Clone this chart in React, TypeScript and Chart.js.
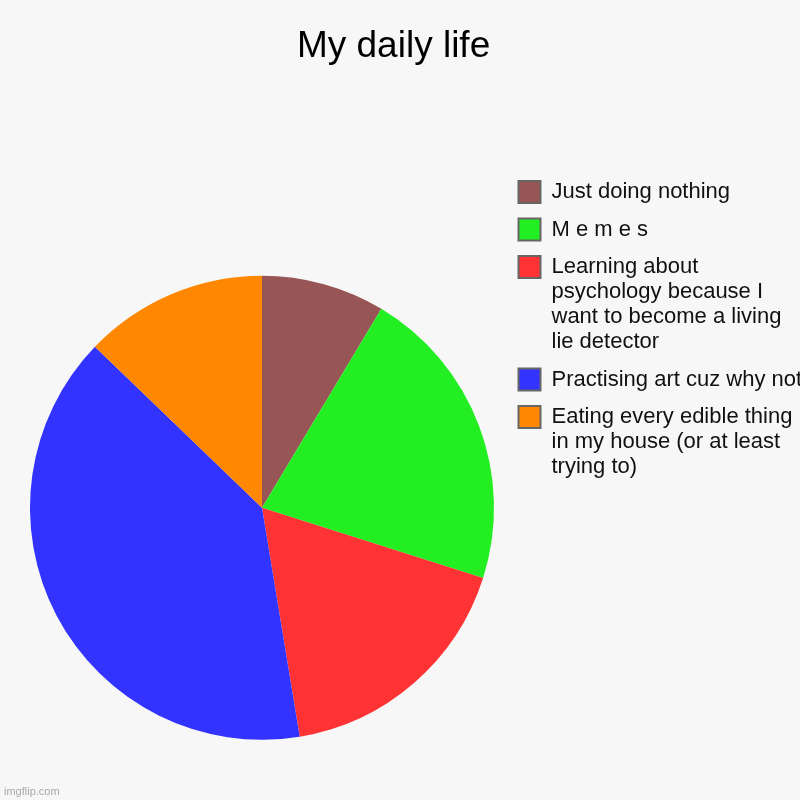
import { useEffect, useRef } from "react";
import { Chart, PieController, ArcElement, Legend, Title } from "chart.js";

Chart.register(PieController, ArcElement, Legend, Title);

const FONT = "'Liberation Sans', Arial, sans-serif";

// slices, clockwise from 12 o'clock
const labels: string[][] = [
  ["Just doing nothing"],
  ["M e m e s"],
  ["Learning about", "psychology because I", "want to become a living", "lie detector"],
  ["Practising art cuz why not"],
  ["Eating every edible thing", "in my house (or at least", "trying to)"],
];
const values = [8.6, 21.3, 17.5, 39.8, 12.8];
const colors = ["#985555", "#22ee22", "#ff3333", "#3333ff", "#ff8800"];

const DailyLifePie = () => {
  const canvasRef = useRef<HTMLCanvasElement>(null);

  useEffect(() => {
    document.body.style.margin = "0";
    if (!canvasRef.current) return;

    const chart = new Chart(canvasRef.current, {
      type: "pie",
      data: {
        labels,
        datasets: [
          {
            data: values,
            backgroundColor: colors,
            borderWidth: 0,
            radius: 232,
          },
        ],
      },
      options: {
        animation: false,
        responsive: false,
        events: [],
        layout: { padding: { left: 18, right: 0, top: 0, bottom: 0 } },
        plugins: {
          title: {
            display: true,
            // trailing spaces nudge the centred title a little to the left, as in the source
            text: "My daily life\u00a0\u00a0\u00a0",
            color: "#000",
            font: { family: FONT, size: 37, weight: "normal", lineHeight: 1.2 },
            padding: { top: 25, bottom: 99.1 },
          },
          legend: {
            position: "right",
            align: "start",
            fullSize: false,
            maxWidth: 294,
            labels: {
              boxWidth: 22,
              boxHeight: 22,
              padding: 12.5,
              font: { family: FONT, size: 22, lineHeight: "25px" },
              generateLabels: () =>
                labels.map((text, i) => ({
                  text: text as any,
                  fillStyle: colors[i],
                  strokeStyle: "#666",
                  lineWidth: 2,
                  fontColor: "#111",
                  hidden: false,
                  index: i,
                })),
            },
          },
          tooltip: { enabled: false },
        },
      },
    });

    return () => chart.destroy();
  }, []);

  // the canvas runs a little below the 800px frame so the pie sits lower, as in the source
  return (
    <div style={{ position: "relative", width: 800, height: 800, background: "#f7f7f7", overflow: "hidden" }}>
      <canvas ref={canvasRef} width={800} height={847} style={{ display: "block" }}></canvas>
      <div
        style={{
          position: "absolute",
          left: 4,
          top: 784,
          fontFamily: FONT,
          fontSize: 11,
          lineHeight: "14px",
          color: "#a8a8a8",
        }}
      >
        imgflip.com
      </div>
    </div>
  );
};

export default function App() {
  return <DailyLifePie />;
}
